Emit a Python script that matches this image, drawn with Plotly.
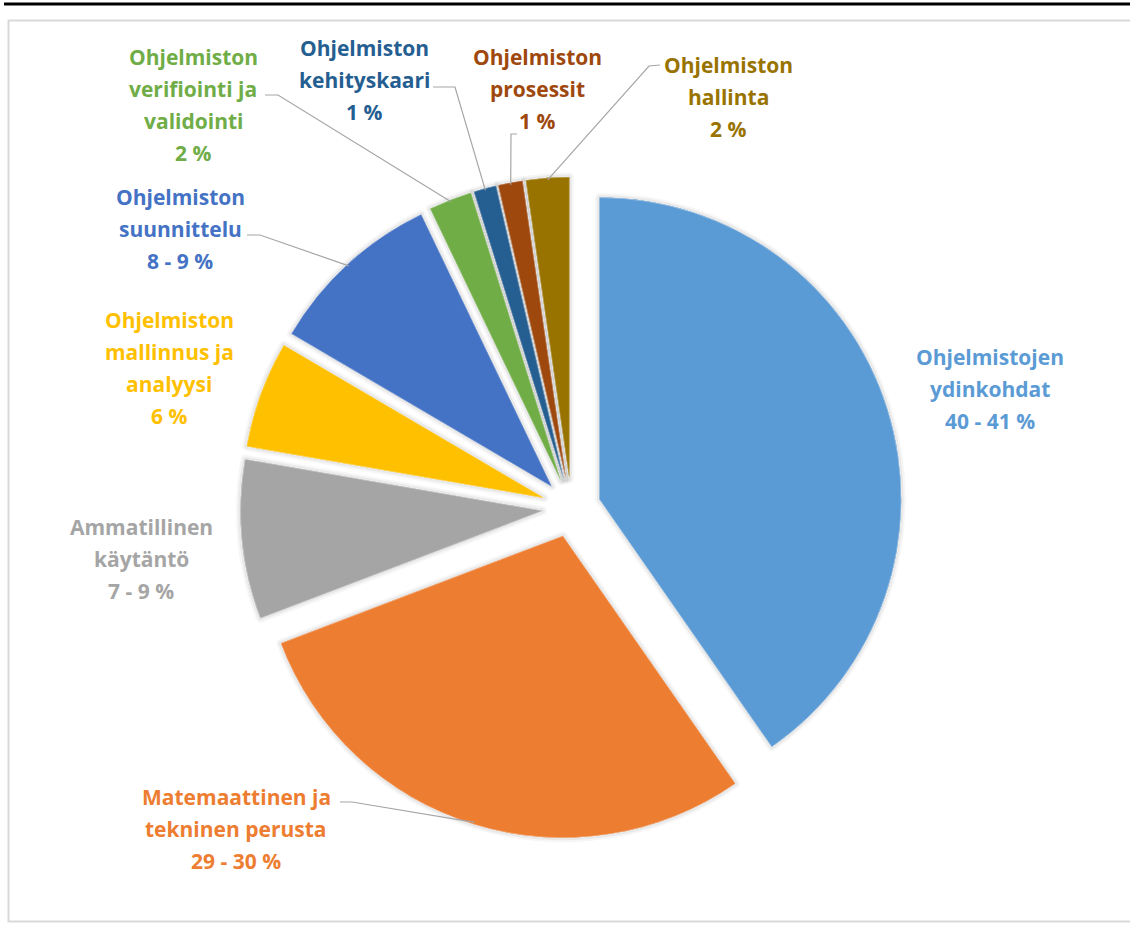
import numpy as np
import plotly.graph_objects as go

# ---------------- data ----------------
categories = [
    "Ohjelmistojen ydinkohdat",
    "Matemaattinen ja tekninen perusta",
    "Ammatillinen käytäntö",
    "Ohjelmiston mallinnus ja analyysi",
    "Ohjelmiston suunnittelu",
    "Ohjelmiston verifiointi ja validointi",
    "Ohjelmiston kehityskaari",
    "Ohjelmiston prosessit",
    "Ohjelmiston hallinta",
]
values = [40.2, 28.8, 8.5, 5.7, 9.4, 2.3, 1.2, 1.3, 2.3]
share_labels = ["40 - 41 %", "29 - 30 %", "7 - 9 %", "6 %", "8 - 9 %", "2 %", "1 %", "1 %", "2 %"]
label_lines = [
    ["Ohjelmistojen", "ydinkohdat"],
    ["Matemaattinen ja", "tekninen perusta"],
    ["Ammatillinen", "käytäntö"],
    ["Ohjelmiston", "mallinnus ja", "analyysi"],
    ["Ohjelmiston", "suunnittelu"],
    ["Ohjelmiston", "verifiointi ja", "validointi"],
    ["Ohjelmiston", "kehityskaari"],
    ["Ohjelmiston", "prosessit"],
    ["Ohjelmiston", "hallinta"],
]
colors = ["#5B9BD5", "#ED7D31", "#A5A5A5", "#FFC000", "#4472C4",
          "#70AD47", "#255E91", "#9E480E", "#997300"]

# ---------------- layout helpers ----------------
W, H = 1130, 930
PULL = 0.097
CX, CY = 571.5, 508.0      # pie centre in px
ROUT = 331.0               # radius incl. pull in px

def px(x):
    return x / W

def py(y):
    return 1 - y / H

dom_x = [px(CX - ROUT), px(CX + ROUT)]
dom_y = [py(CY + ROUT), py(CY - ROUT)]

# label placement (centre x, first line y) in px
label_pos = [(990, 357), (236, 797), (141, 527), (169, 320), (180, 197),
             (193, 57), (364, 48), (537, 57), (728, 65)]
LINE_H = 32
# leader line start points (px) per slice index
leader_start = {
    1: [(340, 802), (352, 802)],
    4: [(247, 235), (260, 235)],
    5: [(265, 95), (278, 95)],
    6: [(433, 87), (455, 87)],
    7: [(517, 134), (511, 134)],
    8: [(660, 65), (649, 66)],
}

FONT = "Open Sans"

fig = go.Figure()

pie_common = dict(
    labels=categories, values=values, sort=False, direction="clockwise",
    rotation=0, pull=[PULL] * len(values), textinfo="none",
    domain=dict(x=dom_x, y=dom_y), showlegend=False,
)
# soft shadow layers underneath
for wdt, alpha in [(9, 0.035), (5, 0.05)]:
    fig.add_trace(go.Pie(
        **pie_common, hoverinfo="skip",
        marker=dict(colors=colors, line=dict(color=f"rgba(0,0,0,{alpha})", width=wdt)),
    ))
# main pie
fig.add_trace(go.Pie(
    **pie_common, hovertemplate="%{label}<extra></extra>",
    marker=dict(colors=colors, line=dict(color="rgba(255,255,255,0.6)", width=0.6)),
))

annotations = []
for i, lines in enumerate(label_lines):
    cx, y0 = label_pos[i]
    all_lines = lines + [share_labels[i]]
    for k, t in enumerate(all_lines):
        annotations.append(dict(
            x=px(cx), y=py(y0 + k * LINE_H), xref="paper", yref="paper",
            text=t, showarrow=False, xanchor="center", yanchor="middle",
            font=dict(family=FONT, size=21, color=colors[i], weight="bold"),
        ))

# leader lines, end point derived from the slice angle
total = sum(values)
cum = np.cumsum([0] + values)
shapes = []
for i, pts in leader_start.items():
    mid = (cum[i] + cum[i + 1]) / 2 / total * 2 * np.pi
    ex = CX + (ROUT - 2) * np.sin(mid)
    ey = CY - (ROUT - 2) * np.cos(mid)
    all_pts = pts + [(ex, ey)]
    path = "M " + " L ".join(f"{px(a):.5f},{py(b):.5f}" for a, b in all_pts)
    shapes.append(dict(type="path", path=path, xref="paper", yref="paper",
                       line=dict(color="#A6A6A6", width=1.2)))

# chart frame and top rule
shapes.append(dict(type="rect", xref="paper", yref="paper",
                   x0=px(8.5), x1=px(1140), y0=py(921.5), y1=py(20.5),
                   line=dict(color="#D9D9D9", width=2)))
shapes.append(dict(type="line", xref="paper", yref="paper",
                   x0=px(4), x1=px(1135), y0=py(4), y1=py(4),
                   line=dict(color="#000000", width=3)))

fig.update_layout(
    width=W, height=H, margin=dict(l=0, r=0, t=0, b=0),
    paper_bgcolor="white", plot_bgcolor="white",
    annotations=annotations, shapes=shapes, showlegend=False,
)

fig.write_html("out.html")
